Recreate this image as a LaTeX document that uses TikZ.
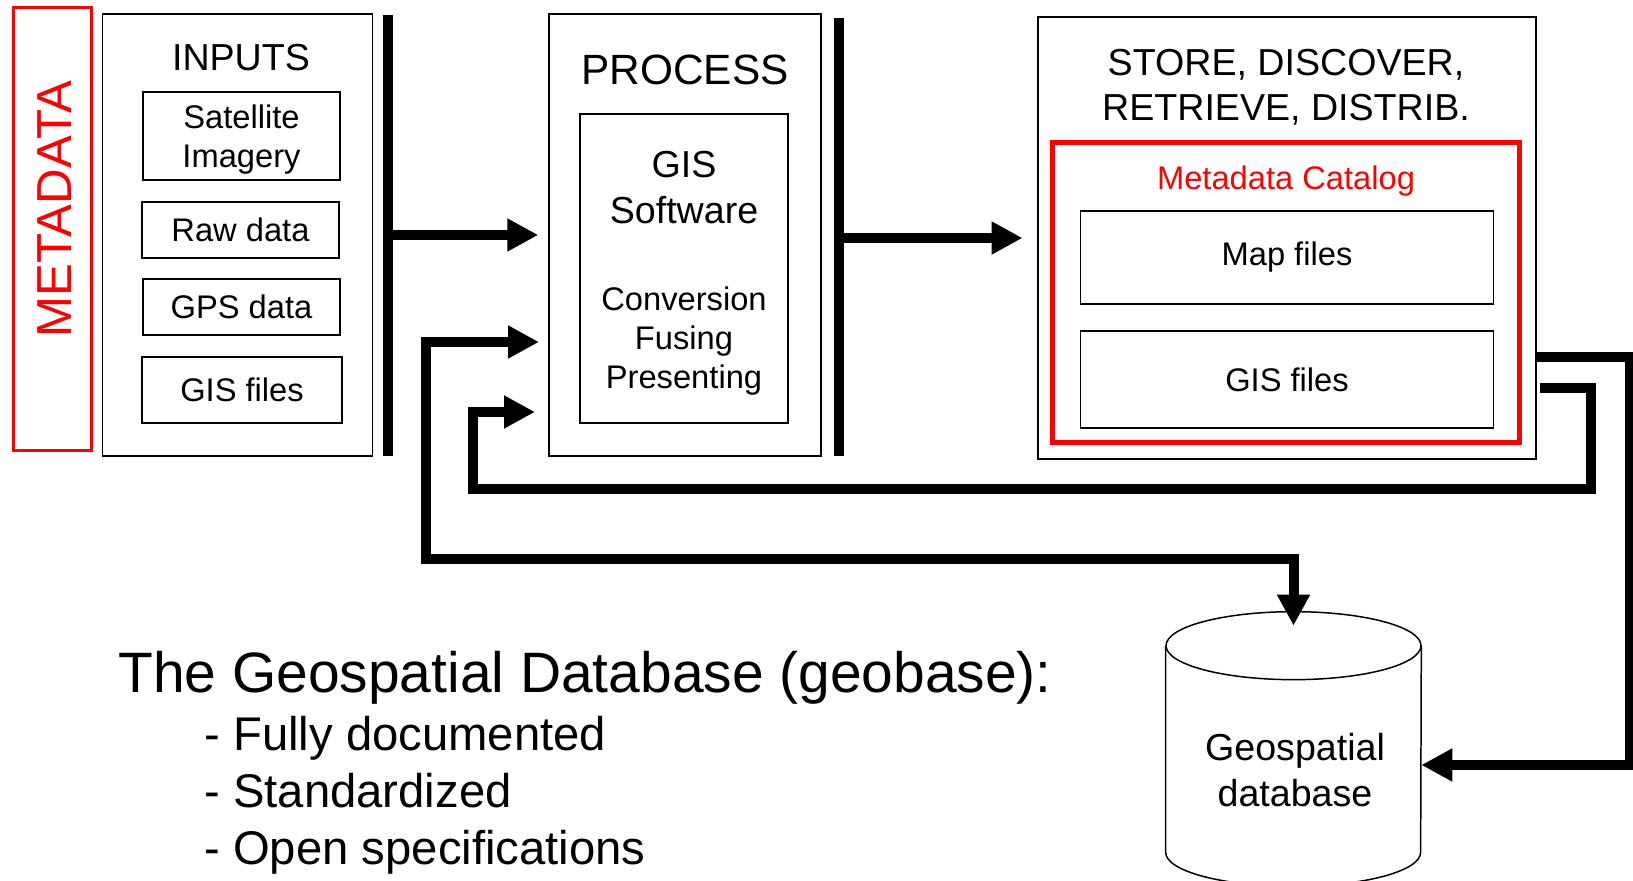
\documentclass[tikz,border=0pt]{standalone}
\usepackage{fontspec}
\setmainfont{Liberation Sans}
\usetikzlibrary{shapes.geometric, arrows.meta, positioning, calc}
\tikzstyle{box} = [draw, line width=0.85pt, inner sep=0pt]
\tikzstyle{entry} = [box, align=center, font=\fontsize{18.6pt}{22.3pt}\selectfont]
\tikzstyle{hdr} = [inner sep=0pt, align=center, font=\fontsize{21.4pt}{25.8pt}\selectfont]
\tikzstyle{txt} = [inner sep=0pt, align=center, font=\fontsize{18.6pt}{22.3pt}\selectfont]
\tikzstyle{redbox} = [draw=red, inner sep=0pt]
\tikzstyle{lst} = [anchor=base west, inner sep=0pt, font=\fontsize{26.9pt}{32pt}\selectfont]
\tikzstyle{bar} = [draw, line width=5.7pt]
\tikzstyle{flow} = [draw, line width=5.7pt]

\begin{document}
\begin{tikzpicture}[x=0.02cm, y=-0.02cm, >={Triangle[length=0.62cm, width=0.62cm]}]
			\useasboundingbox (0,0) rectangle (1633,881);

			% metadata
			\node [redbox, line width=1.7pt, minimum width=1.58cm, minimum height=8.88cm] (meta) at (52.5,229) {};
			\node [txt, red, rotate=90, font=\fontsize{28pt}{33pt}\selectfont] (metatext) at (55,209) {METADATA};

			% inputs
			\node [box, minimum width=5.4cm, minimum height=8.84cm] (inputs) at (237.5,235) {};
			\node [hdr] (inputstitle) at (241,58) {INPUTS};
			\node [entry, text depth=0pt, minimum width=3.94cm, minimum height=1.76cm] (sat) at (241.5,136) {Satellite\\Imagery};
			\node [entry, minimum width=3.94cm, minimum height=1.12cm] (raw) at (240.5,230) {Raw data};
			\node [entry, minimum width=3.94cm, minimum height=1.12cm] (gps) at (241.5,307) {GPS data};
			\node [entry, minimum width=4cm, minimum height=1.32cm] (gisin) at (242,390) {GIS files};

			% process
			\node [box, minimum width=5.44cm, minimum height=8.84cm] (proc) at (685,235) {};
			\node [hdr, font=\fontsize{24.1pt}{29pt}\selectfont] (proctitle) at (685,70) {PROCESS};
			\node [box, minimum width=4.16cm, minimum height=6.18cm] (soft) at (684,268.5) {};
			\node [hdr] (softname) at (684,187.5) {GIS\\Software};
			\node [txt] (tasks) at (684,341) {Conversion\\Fusing\\Presenting};

			% store
			\node [box, minimum width=9.97cm, minimum height=8.84cm] (store) at (1287,238) {};
			\node [hdr] (storetitle) at (1286,87) {STORE, DISCOVER,\\RETRIEVE, DISTRIB.};
			\node [redbox, line width=2.85pt, minimum width=9.36cm, minimum height=6.02cm] (catalog) at (1286,292.5) {};
			\node [txt, red] (catname) at (1286,181) {Metadata Catalog};
			\node [entry, minimum width=8.27cm, minimum height=1.86cm] (maps) at (1287,257.5) {Map files};
			\node [entry, minimum width=8.27cm, minimum height=1.94cm] (gisout) at (1287,379.5) {GIS files};

			% database (cylinder drawn round the node)
			\node [inner sep=0pt, minimum width=5.1cm, minimum height=5.48cm] (db) at (1293.5,749) {};
			\draw [line width=0.85pt] ([yshift=-0.68cm]db.north) ellipse [x radius=2.55cm, y radius=0.68cm];
			\draw [line width=0.85pt] ([yshift=-0.68cm]db.north west) -- ([yshift=0.68cm]db.south west)
				arc [start angle=180, end angle=360, x radius=2.55cm, y radius=0.68cm] -- ([yshift=-0.68cm]db.north east);
			\node [hdr] (dbname) at (1295,770) {Geospatial\\database};

			% bars
			\coordinate (bar1top) at (388,15);
			\coordinate (bar1bot) at (388,456);
			\coordinate (bar2top) at (838.5,18);
			\coordinate (bar2bot) at (838.5,456);
			\path [bar] (bar1top) -- (bar1bot);
			\path [bar] (bar2top) -- (bar2bot);

			% connectors
			\coordinate (in2) at (539,342);
			\coordinate (in3) at (535,412);
			\coordinate (outB) at (1540,388);
			\coordinate (dbtop) at ([yshift=-0.28cm]db.north);
			\path [flow, ->] (bar1top |- proc.west) -- ([xshift=-0.2cm]proc.west);
			\path [flow, ->] (bar2top |- store.west) -- ([xshift=-0.29cm]store.west);
			\path [flow, <->] (in2) -| (426,559) -| (dbtop);
			\path [flow, ->] (outB) -| (1591,489) -| (473,412) -- (in3);
			\path [flow, ->] (store.east |- 0,357) -| (1630,765) -- (db.east |- 0,765);

			% geobase notes
			\node [lst, font=\fontsize{32.4pt}{38pt}\selectfont] (geobase) at (118,692) {The Geospatial Database (geobase):};
			\node [lst] (doc) at (204,750) {- Fully documented};
			\node [lst] (std) at (204,807) {- Standardized};
			\node [lst] (spec) at (204,864) {- Open specifications};
		\end{tikzpicture}
\end{document}
